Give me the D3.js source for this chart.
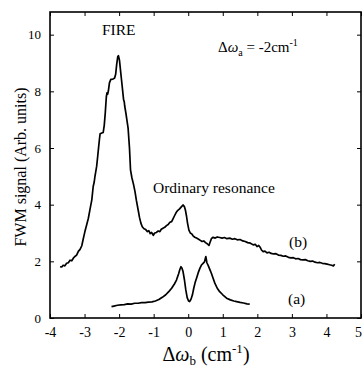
<!DOCTYPE html>
<html>
<head>
<meta charset="utf-8">
<script src="https://cdn.jsdelivr.net/npm/d3@7"></script>
<style>
  html, body { margin: 0; padding: 0; background: #fff; }
  svg { display: block; }
  svg text { font-family: "Liberation Serif", "DejaVu Serif", serif !important; fill: #000; }
</style>
</head>
<body>
<svg id="chart" width="362" height="367"></svg>
<script>
// Curve (b): FWM signal with FIRE peak
const bX = [-3.71,-3.66,-3.62,-3.57,-3.52,-3.47,-3.42,-3.37,-3.32,-3.28,-3.23,-3.18,-3.13,-3.08,-3.04,-2.99,-2.94,-2.89,-2.84,-2.79,-2.75,-2.72,-2.70,-2.65,-2.62,-2.60,-2.57,-2.55,-2.50,-2.46,-2.43,-2.40,-2.37,-2.35,-2.33,-2.31,-2.28,-2.24,-2.18,-2.13,-2.10,-2.07,-2.04,-2.02,-1.99,-1.96,-1.93,-1.90,-1.87,-1.85,-1.84,-1.80,-1.77,-1.74,-1.70,-1.67,-1.63,-1.58,-1.54,-1.50,-1.45,-1.41,-1.37,-1.33,-1.28,-1.23,-1.18,-1.14,-1.10,-1.06,-1.01,-0.97,-0.92,-0.87,-0.82,-0.78,-0.73,-0.68,-0.63,-0.58,-0.53,-0.48,-0.44,-0.40,-0.35,-0.30,-0.25,-0.20,-0.15,-0.11,-0.08,-0.05,-0.02,0.02,0.06,0.10,0.14,0.19,0.24,0.30,0.35,0.40,0.45,0.50,0.55,0.60,0.64,0.67,0.72,0.78,0.84,0.91,0.98,1.05,1.12,1.20,1.28,1.35,1.42,1.50,1.58,1.65,1.72,1.80,1.88,1.94,1.99,2.04,2.08,2.12,2.17,2.22,2.28,2.34,2.40,2.47,2.54,2.61,2.68,2.75,2.82,2.90,2.97,3.04,3.11,3.18,3.25,3.32,3.39,3.46,3.53,3.60,3.67,3.74,3.81,3.88,3.95,4.02,4.09,4.15,4.20,4.24];
const bY = [1.81,1.80,1.86,1.84,1.93,1.95,2.04,2.02,2.12,2.17,2.22,2.35,2.42,2.55,2.78,3.05,3.28,3.52,3.85,4.17,4.64,4.80,4.99,5.35,5.70,5.94,6.30,6.50,6.53,6.55,6.80,7.25,7.80,7.95,7.90,8.02,8.30,8.42,8.43,8.47,8.60,8.95,9.22,9.26,9.10,8.75,8.40,8.05,7.70,7.62,7.50,7.20,6.95,6.70,6.00,5.23,4.95,4.70,4.46,4.15,3.82,3.55,3.35,3.22,3.15,3.12,3.05,3.08,2.98,3.02,2.92,3.00,3.02,3.07,3.05,3.13,3.17,3.20,3.26,3.30,3.38,3.40,3.50,3.60,3.72,3.80,3.85,3.92,3.99,3.93,3.80,3.60,3.35,3.10,3.00,2.97,2.90,2.85,2.82,2.78,2.74,2.70,2.72,2.66,2.62,2.56,2.70,2.80,2.85,2.82,2.86,2.84,2.82,2.84,2.80,2.82,2.78,2.80,2.76,2.77,2.72,2.70,2.66,2.64,2.58,2.60,2.52,2.56,2.50,2.40,2.34,2.36,2.30,2.32,2.28,2.26,2.27,2.22,2.21,2.18,2.19,2.14,2.12,2.13,2.09,2.10,2.06,2.05,2.06,2.02,2.00,2.01,1.97,1.95,1.96,1.93,1.92,1.90,1.88,1.86,1.84,1.90];

// Curve (a): ordinary resonance doublet
const aX = [-2.22,-2.15,-2.05,-1.95,-1.85,-1.75,-1.65,-1.55,-1.45,-1.35,-1.25,-1.15,-1.05,-0.95,-0.85,-0.75,-0.65,-0.55,-0.48,-0.40,-0.34,-0.28,-0.24,-0.21,-0.18,-0.15,-0.11,-0.07,-0.03,0.01,0.04,0.08,0.12,0.16,0.20,0.24,0.29,0.34,0.39,0.43,0.47,0.51,0.54,0.58,0.63,0.67,0.72,0.77,0.84,0.91,1.00,1.11,1.22,1.32,1.40,1.50,1.60,1.70,1.78];
const aY = [0.40,0.42,0.45,0.46,0.47,0.50,0.49,0.52,0.52,0.54,0.54,0.56,0.57,0.60,0.65,0.73,0.82,0.95,1.05,1.20,1.34,1.55,1.72,1.81,1.76,1.64,1.35,0.99,0.72,0.60,0.58,0.66,0.81,1.05,1.25,1.40,1.60,1.76,1.88,1.93,1.98,2.17,1.95,1.85,1.70,1.58,1.40,1.23,1.05,0.93,0.82,0.70,0.64,0.60,0.58,0.55,0.53,0.50,0.49];

const xTicks = [-4,-3,-2,-1,0,1,2,3,4,5];
const yTicks = [0,2,4,6,8,10];

const FONT = "Liberation Serif, DejaVu Serif, serif";
const svg = d3.select("#chart");
const L = 50, R = 361, T = 12, B = 318;

const x = d3.scaleLinear().domain([-4, 5]).range([L, R]);
const y = d3.scaleLinear().domain([0, 10.8]).range([B, T]);

// frame
svg.append("rect").attr("x", L).attr("y", T).attr("width", R - L).attr("height", B - T)
  .attr("fill", "none").attr("stroke", "#000").attr("stroke-width", 1.6);

// bottom axis (labels)
const gx = svg.append("g").attr("transform", `translate(0,${B})`)
  .call(d3.axisBottom(x).tickValues(xTicks).tickSize(-4).tickPadding(9).tickFormat(d => d));
gx.attr("font-family", FONT);
gx.select(".domain").remove();
gx.selectAll("line").attr("stroke", "#000");
gx.selectAll("text").attr("font-size", 14).style("font-family", FONT)
  .attr("dx", d => d === 5 ? -3 : 0);

// top axis (ticks only)
const gt = svg.append("g").attr("transform", `translate(0,${T})`)
  .call(d3.axisTop(x).tickValues(xTicks).tickSize(-4).tickFormat(""));
gt.select(".domain").remove();

// left axis
const gy = svg.append("g").attr("transform", `translate(${L},0)`)
  .call(d3.axisLeft(y).tickValues(yTicks).tickSize(-4).tickPadding(9).tickFormat(d => d));
gy.attr("font-family", FONT);
gy.select(".domain").remove();
gy.selectAll("text").attr("font-size", 13).style("font-family", FONT);

// right axis (ticks only)
const gr = svg.append("g").attr("transform", `translate(${R},0)`)
  .call(d3.axisRight(y).tickValues(yTicks).tickSize(-4).tickFormat(""));
gr.select(".domain").remove();

// curves
const line = d3.line().x(d => x(d[0])).y(d => y(d[1]));
svg.append("path").datum(d3.zip(bX, bY)).attr("d", line)
  .attr("fill", "none").attr("stroke", "#000").attr("stroke-width", 1.7).attr("stroke-linejoin", "round");
svg.append("path").datum(d3.zip(aX, aY)).attr("d", line)
  .attr("fill", "none").attr("stroke", "#000").attr("stroke-width", 1.7).attr("stroke-linejoin", "round");

function txt(xp, yp, size) {
  return svg.append("text").attr("x", xp).attr("y", yp).attr("font-size", size).style("font-family", FONT);
}

// annotations
txt(102, 35, 15.5).text("FIRE");
txt(153, 193, 15.5).text("Ordinary resonance");
txt(289, 247, 15.5).text("(b)");
txt(288, 304, 15.5).text("(a)");

const ann = txt(218, 52, 15);
ann.append("tspan").text("Δ");
ann.append("tspan").attr("font-style", "italic").text("ω");
ann.append("tspan").attr("font-size", 10).attr("dy", 4).text("a");
ann.append("tspan").attr("dy", -4).text(" = -2cm");
ann.append("tspan").attr("font-size", 10).attr("dy", -6).text("-1");

// axis titles
const xt = txt(206, 361, 20).attr("text-anchor", "middle");
xt.append("tspan").text("Δ");
xt.append("tspan").attr("font-style", "italic").text("ω");
xt.append("tspan").attr("font-size", 13).attr("dy", 4).text("b");
xt.append("tspan").attr("dy", -4).text(" (cm");
xt.append("tspan").attr("font-size", 13).attr("dy", -8).text("-1");
xt.append("tspan").attr("dy", 8).text(")");

svg.append("text").attr("transform", "translate(26,167) rotate(-90)")
  .style("font-family", FONT)
  .attr("text-anchor", "middle").attr("font-size", 16).text("FWM signal (Arb. units)");
</script>
</body>
</html>
